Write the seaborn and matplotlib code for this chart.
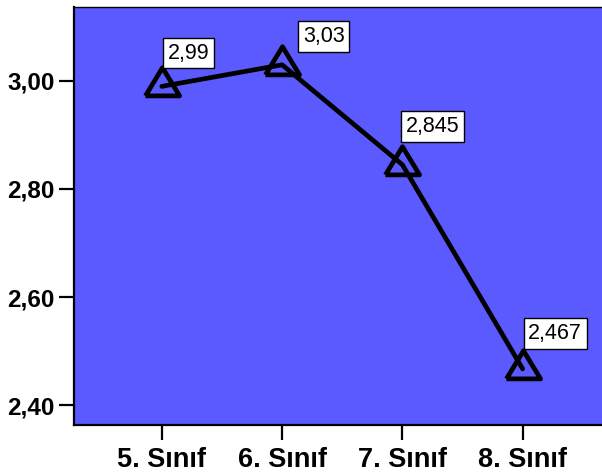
import matplotlib
matplotlib.use("Agg")
import matplotlib.pyplot as plt
import seaborn as sns
import pandas as pd
from matplotlib.ticker import FuncFormatter

categories = ["5. Sınıf", "6. Sınıf", "7. Sınıf", "8. Sınıf"]
values = [2.99, 3.03, 2.845, 2.467]
value_labels = ["2,99", "3,03", "2,845", "2,467"]
yticks = [2.40, 2.60, 2.80, 3.00]

# label box offsets (pixels) relative to data point: left/bottom of box
label_offsets_px = [(1, 18), (16, 13), (-1, 23), (1, 20)]

sns.set_style("white")
plt.rcParams['font.family'] = ['Liberation Sans', 'DejaVu Sans']

DPI = 100
fig = plt.figure(figsize=(6.02, 4.75), dpi=DPI)
ax = fig.add_axes([74/602, 1 - 425/475, 1 - 74/602 + 0.01, (425 - 7)/475])

df = pd.DataFrame({"cat": categories, "val": values})
tri = [(-1.0, -0.55), (1.0, -0.55), (0.0, 1.1), (-1.0, -0.55)]
sns.lineplot(data=df, x="cat", y="val", ax=ax, color="black", linewidth=3.4,
             marker=tri, markersize=27, markerfacecolor="none",
             markeredgecolor="black", markeredgewidth=3.4, sort=False)

ax.set_facecolor("#5a5aff")
ax.set_xlim(-0.73, 3.66 + 0.01 * 602 / 120.3)
ax.set_ylim(2.363, 3.137)
ax.set_yticks(yticks)
ax.yaxis.set_major_formatter(FuncFormatter(lambda v, p: f"{v:.2f}".replace('.', ',')))
ax.set_xlabel("")
ax.set_ylabel("")

for s in ["left", "bottom"]:
    ax.spines[s].set_linewidth(1.6)
    ax.spines[s].set_color("black")
ax.spines["top"].set_linewidth(1.0)
ax.spines["top"].set_color("black")
ax.spines["right"].set_visible(False)

ax.tick_params(axis="both", which="major", direction="out", length=11, width=1.6,
               color="black", bottom=True, left=True)
ax.tick_params(axis="y", pad=3, labelsize=17.5)
ax.tick_params(axis="x", pad=5, labelsize=19.5)
for lbl in ax.get_xticklabels() + ax.get_yticklabels():
    lbl.set_fontweight("bold")
    lbl.set_color("black")

fs = 15.5
pad_frac = 0.22
pad_pt = pad_frac * fs
px2pt = 72.0 / DPI
for i, (v, t) in enumerate(zip(values, value_labels)):
    dx, dy = label_offsets_px[i]
    ax.annotate(t, xy=(i, v), xytext=(dx * px2pt + pad_pt, dy * px2pt + pad_pt),
                textcoords="offset points", ha="left", va="bottom", fontsize=fs,
                color="black",
                bbox=dict(boxstyle=f"square,pad={pad_frac}", facecolor="white",
                          edgecolor="black", linewidth=1.0))

fig.savefig("out.png", dpi=DPI)
